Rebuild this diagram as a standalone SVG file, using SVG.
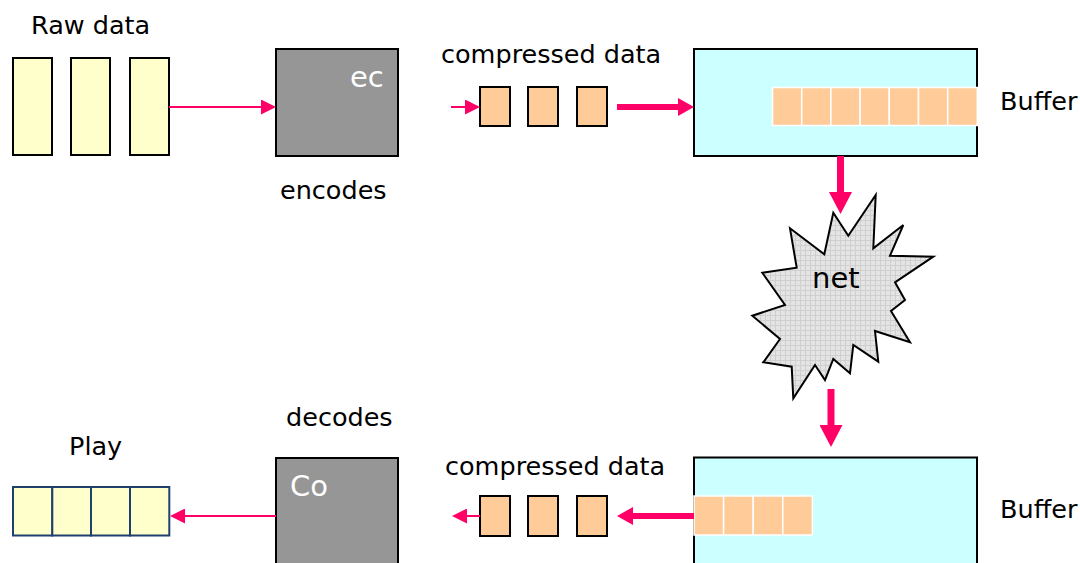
<svg xmlns="http://www.w3.org/2000/svg" width="1080" height="563" viewBox="0 0 1080 563">
  <style>
    text { font-family: "DejaVu Sans", Verdana, sans-serif; font-size: 25.5px; fill: #000; }
    .inv { fill: #fff; font-size: 29px; }
    .raw { fill: #FFFFCC; stroke: #000; stroke-width: 2; }
    .pkt { fill: #FFCC99; stroke: #000; stroke-width: 2; }
    .cell { fill: #FFCC99; stroke: #fff; stroke-width: 1.5; }
    .coder { fill: #969696; stroke: #000; stroke-width: 2; }
    .buf { fill: #CCFFFF; stroke: #000; stroke-width: 2; }
    .play { fill: #FFFFCC; stroke: #1F3F6F; stroke-width: 2; }
    .thin { stroke: #FF0066; stroke-width: 2; fill: none; }
    .thick { stroke: #FF0066; stroke-width: 6; fill: none; }
    .vthick { stroke: #FF0066; stroke-width: 7; fill: none; }
  </style>
  <defs>
    <marker id="head-thin" markerUnits="userSpaceOnUse" markerWidth="15" markerHeight="15" viewBox="0 0 15 15" refX="0" refY="7.5" orient="auto">
      <path d="M0,0 L15,7.5 L0,15 z" fill="#FF0066"/>
    </marker>
    <marker id="head-thick" markerUnits="userSpaceOnUse" markerWidth="16" markerHeight="18" viewBox="0 0 16 18" refX="0" refY="9" orient="auto">
      <path d="M0,0 L16,9 L0,18 z" fill="#FF0066"/>
    </marker>
    <marker id="head-big" markerUnits="userSpaceOnUse" markerWidth="22" markerHeight="23" viewBox="0 0 22 23" refX="0" refY="11.5" orient="auto">
      <path d="M0,0 L22,11.5 L0,23 z" fill="#FF0066"/>
    </marker>
    <pattern id="grid" width="5" height="5" patternUnits="userSpaceOnUse">
      <rect width="5" height="5" fill="#E4E4E4"/>
      <path d="M0,0.5 H5 M0.5,0 V5" stroke="#CFCFCF" stroke-width="1"/>
    </pattern>
  </defs>

  <!-- raw input frames -->
  <g id="raw-data">
    <text x="31" y="34">Raw data</text>
    <rect class="raw" x="13" y="58" width="39" height="97"/>
    <rect class="raw" x="71" y="58" width="39" height="97"/>
    <rect class="raw" x="130" y="58" width="39" height="97"/>
  </g>

  <!-- encoder -->
  <g id="encoder">
    <rect class="coder" x="276" y="49" width="122" height="107"/>
    <text class="inv" x="350" y="87">ec</text>
    <text x="280" y="199">encodes</text>
  </g>

  <!-- compressed packets, upstream -->
  <g id="compressed-top">
    <text x="441" y="63">compressed data</text>
    <rect class="pkt" x="480" y="87" width="30" height="39"/>
    <rect class="pkt" x="528" y="87" width="30" height="39"/>
    <rect class="pkt" x="577" y="87" width="30" height="39"/>
  </g>

  <!-- sender buffer -->
  <g id="buffer-send">
    <rect class="buf" x="694" y="49" width="283" height="107"/>
    <rect class="cell" x="772.5" y="87.5" width="29.2" height="38"/>
    <rect class="cell" x="801.7" y="87.5" width="29.2" height="38"/>
    <rect class="cell" x="830.9" y="87.5" width="29.2" height="38"/>
    <rect class="cell" x="860.1" y="87.5" width="29.2" height="38"/>
    <rect class="cell" x="889.3" y="87.5" width="29.2" height="38"/>
    <rect class="cell" x="918.5" y="87.5" width="29.2" height="38"/>
    <rect class="cell" x="947.7" y="87.5" width="29.6" height="38"/>
    <text x="1000" y="110">Buffer</text>
  </g>

  <!-- network cloud -->
  <g id="net">
    <polygon fill="url(#grid)" stroke="#000" stroke-width="2" stroke-linejoin="miter"
      points="833.3,212.7 848.3,235.7 875.7,195 873.3,248.3 903.3,225 890,255.7 933.3,256.7 895,282.3 905,300 891,311 910,342.3 875,331 878.3,361.7 853.3,345 850,373.3 833.3,359 825,380 815,365 793.3,398.3 791.7,366.7 763.3,362.3 780,339 752.3,315.7 785,305 762.3,272.7 796.7,267.7 790,228.3 824.3,254.3"/>
    <text x="812" y="288" style="font-size:29px">net</text>
  </g>

  <!-- receiver buffer -->
  <g id="buffer-recv">
    <rect class="buf" x="694" y="457.5" width="283" height="120"/>
    <rect class="cell" x="694" y="496" width="29.6" height="39"/>
    <rect class="cell" x="723.6" y="496" width="29.6" height="39"/>
    <rect class="cell" x="753.2" y="496" width="29.6" height="39"/>
    <rect class="cell" x="782.8" y="496" width="29.6" height="39"/>
    <text x="1000" y="518">Buffer</text>
  </g>

  <!-- compressed packets, downstream -->
  <g id="compressed-bottom">
    <text x="445" y="475">compressed data</text>
    <rect class="pkt" x="480" y="496" width="30" height="40"/>
    <rect class="pkt" x="528" y="496" width="30" height="40"/>
    <rect class="pkt" x="577" y="496" width="30" height="40"/>
  </g>

  <!-- decoder -->
  <g id="decoder">
    <text x="286" y="426">decodes</text>
    <rect class="coder" x="276" y="458" width="122" height="120"/>
    <text class="inv" x="290" y="496">Co</text>
  </g>

  <!-- playback frames -->
  <g id="play">
    <text x="69" y="455">Play</text>
    <rect class="play" x="13" y="487" width="39.3" height="48.5"/>
    <rect class="play" x="52.3" y="487" width="38.7" height="48.5"/>
    <rect class="play" x="91" y="487" width="39" height="48.5"/>
    <rect class="play" x="130" y="487" width="39.3" height="48.5"/>
  </g>

  <!-- connectors -->
  <g id="connectors">
    <line class="thin" x1="169" y1="107" x2="261" y2="107" marker-end="url(#head-thin)"/>
    <line class="thin" x1="451" y1="107" x2="465" y2="107" marker-end="url(#head-thin)"/>
    <line class="thick" x1="617" y1="107" x2="678" y2="107" marker-end="url(#head-thick)"/>
    <line class="vthick" x1="840.5" y1="156" x2="840.5" y2="192" marker-end="url(#head-big)"/>
    <line class="vthick" x1="831" y1="389" x2="831" y2="425" marker-end="url(#head-big)"/>
    <line class="thick" x1="694" y1="516" x2="633" y2="516" marker-end="url(#head-thick)"/>
    <line class="thin" x1="480" y1="516" x2="467" y2="516" marker-end="url(#head-thin)"/>
    <line class="thin" x1="276" y1="516" x2="185" y2="516" marker-end="url(#head-thin)"/>
  </g>
</svg>
